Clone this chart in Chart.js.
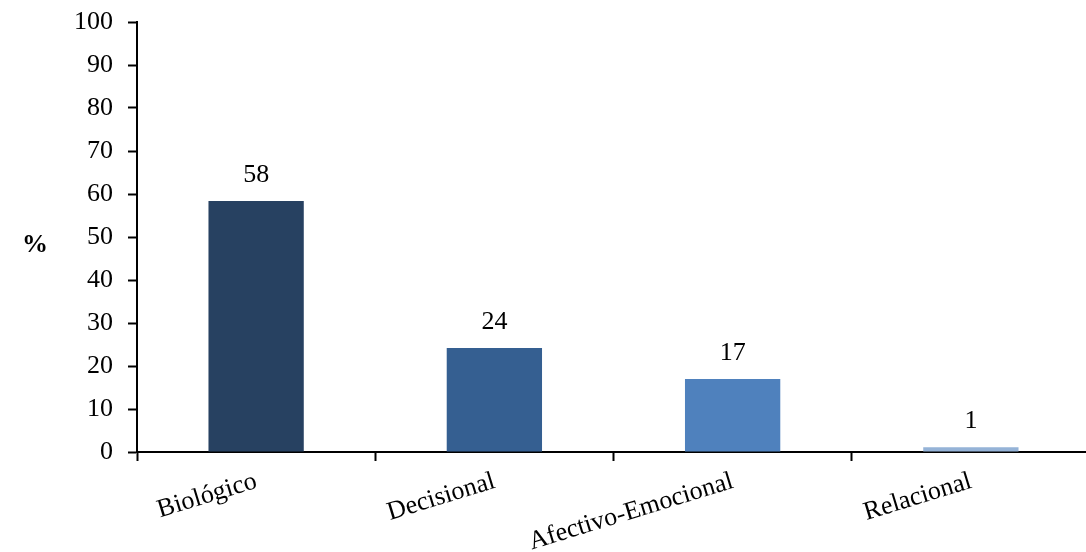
<!DOCTYPE html>
<html>
<head>
<meta charset="utf-8">
<script src="https://cdn.jsdelivr.net/npm/chart.js@4"></script>
<style>
  html, body { margin: 0; padding: 0; background: #fff; overflow: hidden; }
  #wrap { width: 1090px; height: 552px; }
</style>
</head>
<body>
<div id="wrap"><canvas id="chart" width="1090" height="552"></canvas></div>
<script>
// data
const categories = ['Biológico', 'Decisional', 'Afectivo-Emocional', 'Relacional'];
const values = [58.4, 24.2, 17, 1.1];
const barColors = ['#274161', '#355F91', '#4F81BD', '#95B3D7'];
const yTicks = [0, 10, 20, 30, 40, 50, 60, 70, 80, 90, 100];

const serif = 'Liberation Serif';

// value labels above bars + the "%" axis title
const labelPlugin = {
  id: 'labels',
  afterDatasetsDraw(chart) {
    const ctx = chart.ctx;
    const meta = chart.getDatasetMeta(0);
    ctx.save();
    ctx.font = '26px "' + serif + '"';
    ctx.fillStyle = '#000';
    ctx.textAlign = 'center';
    ctx.textBaseline = 'bottom';
    meta.data.forEach((bar, i) => {
      ctx.fillText(Math.round(values[i]), bar.x, bar.y - 13);
    });
    ctx.font = 'bold 26px "' + serif + '"';
    ctx.textBaseline = 'middle';
    const yScale = chart.scales.y;
    ctx.fillText('%', 35, yScale.getPixelForValue(48));
    ctx.restore();
  }
};

new Chart(document.getElementById('chart').getContext('2d'), {
  type: 'bar',
  data: {
    labels: categories,
    datasets: [{
      data: values,
      backgroundColor: barColors,
      categoryPercentage: 1,
      barPercentage: 0.4
    }]
  },
  options: {
    responsive: false,
    maintainAspectRatio: false,
    animation: false,
    layout: { padding: { top: 22, left: 0, right: 0, bottom: 0 } },
    plugins: {
      legend: { display: false },
      tooltip: { enabled: false }
    },
    scales: {
      x: {
        offset: true,
        grid: {
          offset: true,
          drawOnChartArea: false,
          tickLength: 9,
          tickWidth: 2,
          tickColor: (c) => (c.index === 4 ? 'rgba(0,0,0,0)' : '#000')
        },
        border: { color: '#000', width: 2 },
        ticks: {
          color: '#000',
          font: { family: serif, size: 26 },
          minRotation: 17,
          maxRotation: 17,
          padding: 5
        },
        afterFit(scale) { scale.height = 100; scale.paddingLeft = 0; scale.paddingRight = 0; }
      },
      y: {
        min: 0,
        max: 100,
        afterBuildTicks(scale) { scale.ticks = yTicks.map(v => ({ value: v })); },
        grid: {
          drawOnChartArea: false,
          tickLength: 9,
          tickWidth: 2,
          tickColor: '#000'
        },
        border: { color: '#000', width: 2 },
        ticks: {
          color: '#000',
          font: { family: serif, size: 26 },
          padding: 15
        },
        afterFit(scale) { scale.width = 137; scale.paddingTop = 0; scale.paddingBottom = 0; }
      }
    }
  },
  plugins: [labelPlugin]
});
</script>
</body>
</html>
